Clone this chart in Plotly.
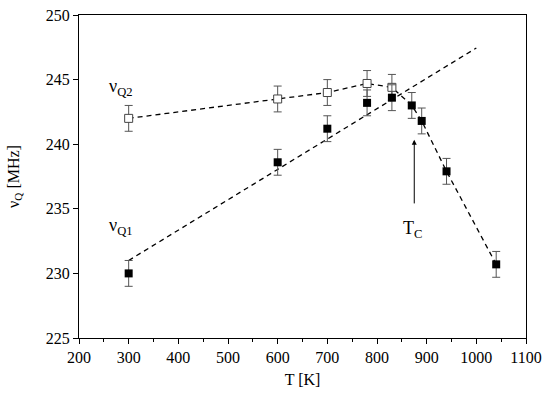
import plotly.graph_objects as go

# Data
T_q2 = [300, 600, 700, 780, 830]
nu_q2 = [242.0, 243.5, 244.0, 244.7, 244.4]
err_q2 = [1.0, 1.0, 1.0, 1.0, 1.0]

T_q1 = [300, 600, 700, 780, 830, 870, 890, 940, 1040]
nu_q1 = [230.0, 238.6, 241.2, 243.2, 243.6, 243.0, 241.8, 237.9, 230.7]
err_q1 = [1.0, 1.0, 1.0, 1.0, 1.0, 1.0, 1.0, 1.0, 1.0]

# Guide lines (dashed)
T_guide_a = [300, 600, 700, 780, 830, 870, 890, 940, 1040]
nu_guide_a = [242.0, 243.5, 244.0, 244.7, 244.4, 243.0, 241.8, 237.9, 230.7]
T_guide_b = [300, 1000]
nu_guide_b = [231.0, 247.45]

x_ticks = [200, 300, 400, 500, 600, 700, 800, 900, 1000, 1100]
y_ticks = [225, 230, 235, 240, 245, 250]

font_family = "Liberation Serif"
dash = "5px,4px"

fig = go.Figure()
fig.add_trace(go.Scatter(x=T_guide_a, y=nu_guide_a, mode="lines",
                         line=dict(color="black", width=1.3, dash=dash), hoverinfo="skip"))
fig.add_trace(go.Scatter(x=T_guide_b, y=nu_guide_b, mode="lines",
                         line=dict(color="black", width=1.3, dash=dash), hoverinfo="skip"))
fig.add_trace(go.Scatter(x=T_q2, y=nu_q2, mode="markers",
                         marker=dict(symbol="square", size=8, color="white",
                                     line=dict(color="#444", width=1)),
                         error_y=dict(type="data", array=err_q2, color="#555",
                                      thickness=1, width=4)))
fig.add_trace(go.Scatter(x=T_q1, y=nu_q1, mode="markers",
                         marker=dict(symbol="square", size=8, color="black",
                                     line=dict(color="black", width=0)),
                         error_y=dict(type="data", array=err_q1, color="#555",
                                      thickness=1, width=4)))

fig.add_annotation(x=875, y=240.35, ax=875, ay=235.3, xref="x", yref="y",
                   axref="x", ayref="y", showarrow=True, arrowhead=2,
                   arrowsize=1, arrowwidth=1, arrowcolor="black", text="")
fig.add_annotation(x=872, y=233.4, xref="x", yref="y", showarrow=False,
                   text="T<sub>C</sub>", font=dict(family=font_family, size=18, color="black"))
fig.add_annotation(x=285, y=244.4, xref="x", yref="y", showarrow=False,
                   text="ν<sub>Q2</sub>", font=dict(family=font_family, size=18, color="black"))
fig.add_annotation(x=285, y=233.6, xref="x", yref="y", showarrow=False,
                   text="ν<sub>Q1</sub>", font=dict(family=font_family, size=18, color="black"))

axis_common = dict(showline=True, linecolor="black", linewidth=1.3, mirror=True,
                   ticks="outside", ticklen=5, tickwidth=1, tickcolor="black",
                   showgrid=False, zeroline=False, automargin=False,
                   tickfont=dict(family=font_family, size=16, color="black"))
fig.update_xaxes(range=[200, 1100], tickvals=x_ticks,
                 minor=dict(ticks="outside", ticklen=3, tickcolor="black", dtick=50, tick0=200),
                 title=dict(text="T [K]", font=dict(family=font_family, size=16, color="black"), standoff=8),
                 **axis_common)
fig.update_yaxes(range=[225, 250], tickvals=y_ticks,
                 title=dict(text="ν<sub>Q</sub> [MHz]", font=dict(family=font_family, size=16, color="black"), standoff=22),
                 **axis_common)

fig.update_layout(width=550, height=395, showlegend=False,
                  margin=dict(l=79, r=24, t=15, b=57),
                  plot_bgcolor="white", paper_bgcolor="white")

fig.write_html("out.html", config={"displayModeBar": False},
               post_script="document.body.style.margin='0';")
